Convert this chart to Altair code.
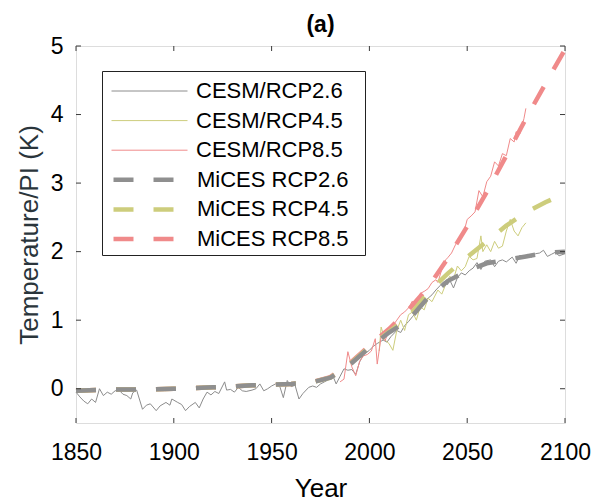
import altair as alt
import pandas as pd

# ---------------- data ----------------
cesm_names = ["CESM/RCP2.6", "CESM/RCP4.5", "CESM/RCP8.5"]
mices_names = ["MiCES RCP2.6", "MiCES RCP4.5", "MiCES RCP8.5"]

cesm26_years = [1850, 1852, 1854, 1856, 1858, 1860, 1862, 1864, 1866, 1868, 1870, 1872, 1874, 1876,
                1878, 1879, 1881, 1884, 1886, 1888, 1891, 1893, 1896, 1898, 1899, 1902, 1904, 1906,
                1908, 1911, 1913, 1915, 1917, 1919, 1921, 1923, 1926, 1927, 1929, 1931, 1933, 1935,
                1937, 1940, 1942, 1944, 1946, 1948, 1950, 1952, 1954, 1956, 1958, 1960, 1962, 1964,
                1966, 1969, 1971, 1973, 1975, 1977, 1979, 1981, 1983, 1985, 1987, 1989, 1991, 1993,
                1995, 1997, 2000, 2002, 2004, 2007, 2009, 2011, 2014, 2016, 2018, 2020, 2022, 2024,
                2026, 2028, 2030, 2032, 2034, 2036, 2038, 2040, 2041, 2043, 2045, 2047, 2049, 2051,
                2053, 2055, 2057, 2059, 2062, 2064, 2066, 2068, 2070, 2073, 2075, 2077, 2079, 2081,
                2083, 2085, 2087, 2089, 2091, 2093, 2095, 2097, 2100]
cesm26_vals = [-0.05, -0.12, -0.18, -0.22, -0.15, -0.20, 0.00, -0.10, -0.05, -0.08, -0.03, -0.02, -0.08, -0.10,
               -0.15, -0.06, -0.02, -0.30, -0.24, -0.22, -0.32, -0.25, -0.20, -0.24, -0.15, -0.20, -0.23, -0.32,
               -0.26, -0.20, -0.28, -0.15, -0.05, -0.09, -0.04, -0.07, 0.10, -0.02, -0.01, -0.05, 0.02, -0.03,
               -0.04, -0.02, 0.00, 0.07, -0.03, 0.00, 0.04, 0.07, 0.05, -0.13, 0.12, 0.03, 0.05, -0.15,
               -0.07, 0.02, 0.04, 0.02, 0.07, 0.10, 0.13, 0.21, 0.07, 0.18, 0.29, 0.27, 0.28, 0.21,
               0.39, 0.50, 0.56, 0.62, 0.66, 0.71, 0.68, 0.76, 0.85, 0.82, 0.92, 0.98, 1.05, 1.12,
               1.20, 1.28, 1.32, 1.37, 1.44, 1.50, 1.56, 1.52, 1.59, 1.47, 1.62, 1.69, 1.66, 1.72,
               1.76, 1.84, 1.74, 1.86, 1.88, 1.78, 1.86, 1.88, 1.85, 1.92, 1.83, 1.95, 1.90, 1.96,
               1.92, 1.97, 1.98, 2.02, 1.93, 1.96, 1.99, 1.94, 1.97]

cesm45_years = [2005, 2006, 2008, 2010, 2012, 2014, 2016, 2018, 2020, 2022, 2024, 2026, 2028, 2030,
                2032, 2035, 2037, 2039, 2041, 2043, 2045, 2047, 2049, 2051, 2053, 2055, 2057, 2058,
                2060, 2062, 2064, 2066, 2068, 2070, 2072, 2074, 2076, 2078, 2080]
cesm45_vals = [0.55, 0.90, 0.71, 0.66, 0.56, 0.85, 1.00, 0.85, 1.08, 1.12, 1.00, 1.20, 1.15, 1.32,
               1.27, 1.44, 1.38, 1.52, 1.64, 1.60, 1.79, 1.72, 1.78, 1.93, 1.88, 1.90, 2.23, 2.00,
               2.10, 2.00, 2.15, 2.05, 2.08, 2.30, 2.47, 2.30, 2.23, 2.35, 2.42]

cesm85_years = [1985, 1987, 1989, 1991, 1993, 1995, 1997, 1999, 2001, 2003, 2004, 2006, 2008, 2010,
                2012, 2014, 2016, 2018, 2020, 2022, 2024, 2026, 2028, 2030, 2032, 2034, 2035, 2037,
                2039, 2040, 2042, 2044, 2046, 2048, 2050, 2052, 2054, 2056, 2058, 2060, 2062, 2064,
                2066, 2068, 2070, 2072, 2074, 2075, 2077, 2079, 2080]
cesm85_vals = [0.10, 0.14, 0.54, 0.32, 0.19, 0.40, 0.48, 0.50, 0.55, 0.73, 0.36, 0.76, 0.70, 0.85,
               0.92, 1.00, 1.08, 1.12, 1.18, 1.28, 1.22, 1.39, 1.42, 1.46, 1.55, 1.59, 1.55, 1.74,
               1.88, 1.91, 1.98, 2.10, 2.18, 2.25, 2.47, 2.52, 2.58, 2.89, 2.80, 3.02, 3.10, 3.31,
               3.25, 3.43, 3.40, 3.65, 3.60, 3.75, 3.72, 3.94, 4.09]

mices_years = [1850, 1870, 1890, 1900, 1920, 1940, 1960, 1970, 1980, 1990, 2000,
               2010, 2020, 2030, 2040, 2050, 2060, 2070, 2080, 2090, 2100]
mices26_vals = [-0.03, -0.01, -0.01, 0.00, 0.02, 0.05, 0.07, 0.09, 0.16, 0.35, 0.60,
                0.82, 1.00, 1.33, 1.57, 1.72, 1.83, 1.88, 1.93, 1.98, 2.00]
mices45_vals = [-0.03, -0.01, -0.01, 0.00, 0.02, 0.05, 0.07, 0.09, 0.16, 0.36, 0.61,
                0.83, 1.05, 1.40, 1.68, 1.92, 2.15, 2.38, 2.57, 2.72, 2.85]
mices85_vals = [-0.03, -0.01, -0.01, 0.00, 0.02, 0.05, 0.07, 0.09, 0.17, 0.37, 0.63,
                0.87, 1.15, 1.48, 1.90, 2.37, 2.87, 3.40, 3.94, 4.45, 4.95]

x_ticks = [1850, 1900, 1950, 2000, 2050, 2100]
y_ticks = [0, 1, 2, 3, 4, 5]

# ---------------- styling ----------------
cesm_colors = ["#8c8c8c", "#cdcd7c", "#f08a8a"]
mices_colors = ["#8f8f8f", "#cdcd7c", "#f08a8a"]
FONT = "Liberation Sans"
FRAME = "#3a3a3a"
W, H = 489, 377
ROW_H, ROW_PAD, LEG_PAD = 22, 7.6, 9
# tiny, fully transparent spacer line that only sets the legend box width
SPACER = "0" * 220


def frame(years, vals, name):
    return pd.DataFrame({"year": years, "value": vals, "series": name})


cesm_df = pd.concat([frame(cesm26_years, cesm26_vals, cesm_names[0]),
                     frame(cesm45_years, cesm45_vals, cesm_names[1]),
                     frame(cesm85_years, cesm85_vals, cesm_names[2])])
m26 = frame(mices_years, mices26_vals, mices_names[0])
m45 = frame(mices_years, mices45_vals, mices_names[1])
m85 = frame(mices_years, mices85_vals, mices_names[2])

common_leg = dict(orient="none", legendX=26, symbolType="stroke", symbolSize=5776,
                  labelFont=FONT, labelFontSize=22, labelColor="#000000",
                  padding=LEG_PAD, rowPadding=ROW_PAD, clipHeight=ROW_H, labelLimit=400)

# box-drawing legend (CESM entries + reserved space for the MiCES entries below)
legend_cesm = alt.Legend(
    title=SPACER, titleOrient="bottom", titleFont=FONT, titleFontSize=2,
    titlePadding=83, titleLimit=600, titleOpacity=0,
    legendY=25, symbolStrokeWidth=1, strokeColor="#222222", fillColor="#ffffff",
    labelOffset=8, zindex=1, **common_leg)
legend_mices = alt.Legend(
    title=None, legendY=25 + 3 * (ROW_H + ROW_PAD), symbolStrokeWidth=4.5,
    symbolDash=[20, 20], labelOffset=5, zindex=2, **common_leg)

x_enc = alt.X("year:Q", scale=alt.Scale(domain=[1850, 2100], nice=False, zero=False),
              axis=alt.Axis(values=x_ticks, format="d", ticks=False, tickSize=0, domain=False,
                            grid=False, labelPadding=18, labelFlush=False, title="Year",
                            titleFontSize=26, titleFontWeight="normal", titlePadding=11,
                            labelFontSize=23))
y_enc = alt.Y("value:Q", scale=alt.Scale(domain=[-0.5, 5], nice=False, zero=False),
              axis=alt.Axis(values=y_ticks, ticks=False, tickSize=0, domain=False, grid=False,
                            labelPadding=13, labelFlush=False, title="Temperature/PI (K)",
                            titleFontSize=26, titleFontWeight="normal", titlePadding=8,
                            titleColor="#2a353b", labelFontSize=23))

thin = alt.Chart(cesm_df).mark_line(strokeWidth=1, strokeCap="butt").encode(
    x=x_enc, y=y_enc,
    color=alt.Color("series:N", scale=alt.Scale(domain=cesm_names, range=cesm_colors),
                    legend=legend_cesm))

mices_color = alt.Color("series:N", scale=alt.Scale(domain=mices_names, range=mices_colors),
                        legend=legend_mices)


def dashed(df):
    return alt.Chart(df).mark_line(strokeWidth=4.5, strokeCap="butt", strokeDash=[20, 20]).encode(
        x=x_enc, y=y_enc, color=mices_color)


mices_layer = alt.layer(dashed(m85), dashed(m45), dashed(m26))

xt = pd.DataFrame({"year": x_ticks})
yt = pd.DataFrame({"value": y_ticks})
tick_bottom = alt.Chart(xt).mark_rule(color=FRAME, strokeWidth=1).encode(
    x=x_enc, y=alt.value(H), y2=alt.value(H - 5))
tick_top = alt.Chart(xt).mark_rule(color=FRAME, strokeWidth=1).encode(
    x=x_enc, y=alt.value(0), y2=alt.value(5))
tick_left = alt.Chart(yt).mark_rule(color=FRAME, strokeWidth=1).encode(
    y=y_enc, x=alt.value(0), x2=alt.value(5))
tick_right = alt.Chart(yt).mark_rule(color=FRAME, strokeWidth=1).encode(
    y=y_enc, x=alt.value(W), x2=alt.value(W - 5))

chart = alt.layer(
    thin, mices_layer,
    tick_bottom, tick_top, tick_left, tick_right,
).resolve_scale(
    color="independent"
).resolve_legend(
    color="independent"
).properties(
    width=W, height=H,
    title=alt.TitleParams("(a)", font=FONT, fontSize=23, fontWeight="bold", color="#000000",
                          anchor="middle", offset=-2),
    padding={"left": 76, "top": 46, "right": 31, "bottom": 78},
    autosize=alt.AutoSizeParams(type="none"),
).configure_view(
    stroke=FRAME, strokeWidth=1
).configure_axis(
    labelFont=FONT, titleFont=FONT, labelColor="#262626", titleColor="#262626"
).configure(background="#ffffff")

chart.save("out.html", embed_options={"renderer": "svg", "actions": False})
